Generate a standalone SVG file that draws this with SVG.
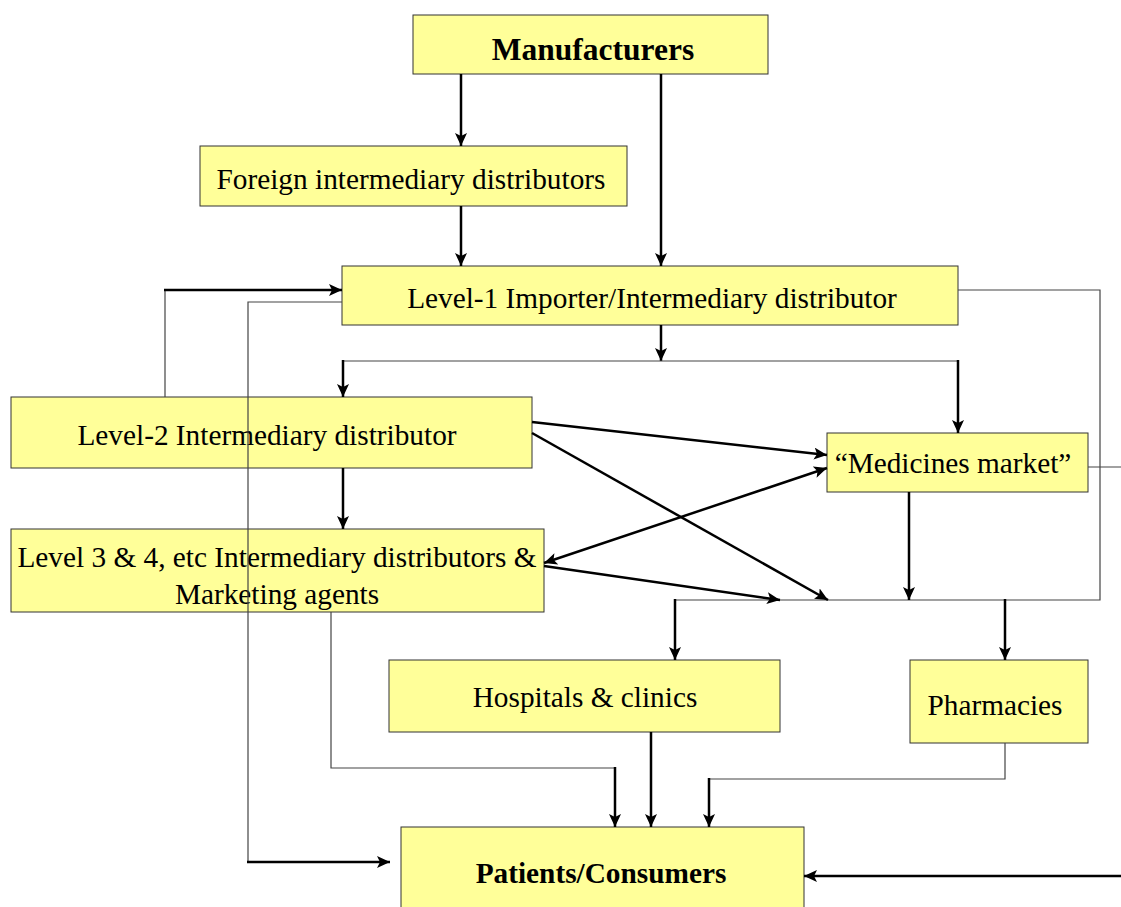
<svg xmlns="http://www.w3.org/2000/svg" width="1121" height="907" viewBox="0 0 1121 907">
<defs>
<marker id="ah" markerUnits="userSpaceOnUse" markerWidth="14" markerHeight="12" refX="13" refY="6" orient="auto-start-reverse">
<path d="M0,0 L13,6 L0,12 L3,6 z" fill="#000"/>
</marker>
<style>
.box{fill:#FFFF99;stroke:#333;stroke-width:1}
.t{font-family:"Liberation Serif","Times New Roman",serif;font-size:29.3px;fill:#000;text-anchor:middle}
.b{font-weight:bold}
.thick{fill:none;stroke:#000;stroke-width:2.5}
.thin{fill:none;stroke:#444;stroke-width:1.2}
.arr{marker-end:url(#ah)}
</style>
</defs>
<rect width="1121" height="907" fill="#fff"/>
<g id="nodes">
<g id="manufacturers"><rect class="box" x="413" y="15" width="355" height="59"/><text class="t b" x="593" y="60" style="font-size:31.5px">Manufacturers</text></g>
<g id="foreign"><rect class="box" x="200" y="146" width="427" height="60"/><text class="t" x="411" y="189">Foreign intermediary distributors</text></g>
<g id="level1"><rect class="box" x="342" y="266" width="616" height="59"/><text class="t" x="652" y="308">Level-1 Importer/Intermediary distributor</text></g>
<g id="level2"><rect class="box" x="11" y="397" width="521" height="71"/><text class="t" x="267" y="445">Level-2 Intermediary distributor</text></g>
<g id="level3"><rect class="box" x="11" y="529" width="533" height="83"/><text class="t" x="277" y="567">Level 3 &amp; 4, etc Intermediary distributors &amp;</text><text class="t" x="277" y="604">Marketing agents</text></g>
<g id="medicines"><rect class="box" x="827" y="433" width="261" height="59"/><text class="t" x="953" y="473">“Medicines market”</text></g>
<g id="hospitals"><rect class="box" x="389" y="660" width="391" height="72"/><text class="t" x="585" y="707">Hospitals &amp; clinics</text></g>
<g id="pharmacies"><rect class="box" x="910" y="660" width="178" height="83"/><text class="t" x="995" y="715">Pharmacies</text></g>
<g id="patients"><rect class="box" x="401" y="827" width="403" height="90"/><text class="t b" x="601" y="883">Patients/Consumers</text></g>
</g>
<g id="connectors">
<path class="thick arr" d="M461,74 V146"/>
<path class="thick arr" d="M661,74 V266"/>
<path class="thick arr" d="M461,206 V266"/>
<path class="thin" d="M165,397 V290"/>
<path class="thick arr" d="M164,290 H342"/>
<path class="thin" d="M342,302 H248 V862"/>
<path class="thick arr" d="M247,862 H390"/>
<path class="thick arr" d="M661,325 V361"/>
<path class="thin" d="M343,361 H958"/>
<path class="thick arr" d="M343,360 V397"/>
<path class="thick arr" d="M958,360 V433"/>
<path class="thin" d="M958,290 H1100 V600 H675"/>
<path class="thick arr" d="M675,599 V660"/>
<path class="thick arr" d="M1005,599 V660"/>
<path class="thin" d="M1088,467 H1121"/>
<path class="thick arr" d="M1121,876 H804"/>
<path class="thick arr" d="M532,422 L827,455"/>
<path class="thick arr" d="M532,433 L828,600"/>
<path class="thick arr" d="M544,563 L827,468" marker-start="url(#ah)"/>
<path class="thick arr" d="M544,566 L780,600"/>
<path class="thick arr" d="M909,492 V600"/>
<path class="thick arr" d="M343,468 V529"/>
<path class="thin" d="M331,612 V768 H615"/>
<path class="thick arr" d="M615,767 V827"/>
<path class="thick arr" d="M651,732 V827"/>
<path class="thin" d="M1005,743 V779 H709"/>
<path class="thick arr" d="M709,778 V827"/>
</g>
</svg>
